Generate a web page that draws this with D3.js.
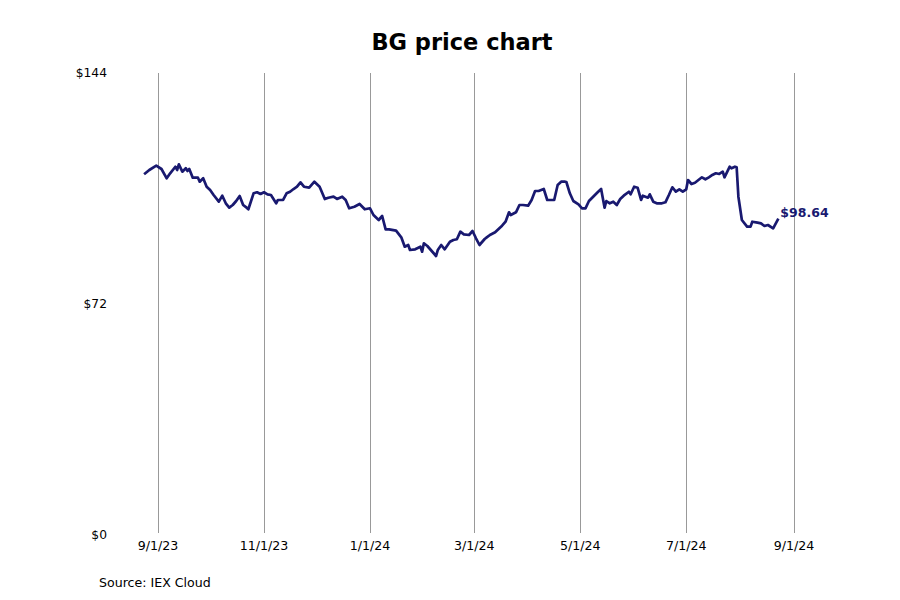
<!DOCTYPE html>
<html lang="en">
<head>
    <meta charset="utf-8">
    <title>BG price chart</title>
    <script src="https://cdn.jsdelivr.net/npm/d3@7"></script>
    <style>
        body { margin: 0; background: #fff; }
        text { font-family: "DejaVu Sans", sans-serif; }
        .grid { stroke: #999; stroke-width: 1; }
        .price-line { fill: none; stroke: #191970; stroke-width: 2.7; stroke-linejoin: round; }
    </style>
</head>
<body>
    <script>
        // Data
        var dates = [
            "2023-08-24", "2023-08-27", "2023-08-31", "2023-09-03", "2023-09-06", "2023-09-08",
            "2023-09-11", "2023-09-12", "2023-09-13", "2023-09-15", "2023-09-17", "2023-09-18",
            "2023-09-19", "2023-09-21", "2023-09-24", "2023-09-25", "2023-09-27", "2023-09-29",
            "2023-10-01", "2023-10-03", "2023-10-06", "2023-10-08", "2023-10-10", "2023-10-12",
            "2023-10-14", "2023-10-16", "2023-10-18", "2023-10-20", "2023-10-22", "2023-10-23",
            "2023-10-26", "2023-10-28", "2023-10-30", "2023-11-01", "2023-11-03", "2023-11-05",
            "2023-11-08", "2023-11-09", "2023-11-12", "2023-11-14", "2023-11-16", "2023-11-18",
            "2023-11-20", "2023-11-22", "2023-11-24", "2023-11-27", "2023-11-30", "2023-12-03",
            "2023-12-06", "2023-12-08", "2023-12-11", "2023-12-13", "2023-12-16", "2023-12-18",
            "2023-12-20", "2023-12-23", "2023-12-26", "2023-12-29", "2024-01-01", "2024-01-03",
            "2024-01-06", "2024-01-08", "2024-01-10", "2024-01-12", "2024-01-16", "2024-01-19",
            "2024-01-21", "2024-01-23", "2024-01-24", "2024-01-27", "2024-01-30", "2024-01-31",
            "2024-02-01", "2024-02-03", "2024-02-05", "2024-02-08", "2024-02-09", "2024-02-11",
            "2024-02-13", "2024-02-16", "2024-02-18", "2024-02-20", "2024-02-22", "2024-02-24",
            "2024-02-27", "2024-02-29", "2024-03-02", "2024-03-04", "2024-03-07", "2024-03-08",
            "2024-03-10", "2024-03-13", "2024-03-15", "2024-03-17", "2024-03-19", "2024-03-21",
            "2024-03-22", "2024-03-25", "2024-03-27", "2024-03-29", "2024-04-01", "2024-04-03",
            "2024-04-05", "2024-04-07", "2024-04-10", "2024-04-12", "2024-04-15", "2024-04-16",
            "2024-04-18", "2024-04-20", "2024-04-22", "2024-04-23", "2024-04-25", "2024-04-27",
            "2024-04-30", "2024-05-02", "2024-05-04", "2024-05-06", "2024-05-09", "2024-05-11",
            "2024-05-13", "2024-05-15", "2024-05-16", "2024-05-18", "2024-05-20", "2024-05-22",
            "2024-05-24", "2024-05-26", "2024-05-29", "2024-05-30", "2024-06-01", "2024-06-03",
            "2024-06-05", "2024-06-06", "2024-06-09", "2024-06-10", "2024-06-12", "2024-06-14",
            "2024-06-17", "2024-06-19", "2024-06-21", "2024-06-23", "2024-06-25", "2024-06-27",
            "2024-06-29", "2024-07-01", "2024-07-02", "2024-07-04", "2024-07-06", "2024-07-08",
            "2024-07-10", "2024-07-12", "2024-07-14", "2024-07-16", "2024-07-18", "2024-07-20",
            "2024-07-22", "2024-07-23", "2024-07-26", "2024-07-27", "2024-07-29", "2024-07-30",
            "2024-07-31", "2024-08-02", "2024-08-05", "2024-08-07", "2024-08-08", "2024-08-11",
            "2024-08-13", "2024-08-15", "2024-08-17", "2024-08-20", "2024-08-21", "2024-08-23"
        ];
        var prices = [
            112.43, 113.77, 115.11, 114.08, 111.18, 112.74,
            114.79, 113.77, 115.54, 113.24, 114.30, 113.46,
            114.08, 111.37, 111.37, 110.12, 111.18, 108.56,
            107.53, 105.97, 103.89, 105.76, 103.39, 102.02,
            102.86, 104.10, 105.66, 102.86, 102.02, 101.52,
            106.50, 106.82, 106.29, 106.82, 106.19, 105.97,
            103.39, 104.42, 104.42, 106.50, 107.00, 107.84,
            108.56, 109.93, 108.56, 108.25, 110.12, 108.56,
            104.73, 105.13, 105.45, 104.73, 105.45, 104.42,
            101.83, 102.33, 103.17, 101.52, 101.83, 99.74,
            98.18, 99.43, 95.28, 95.28, 94.85, 92.79,
            89.86, 90.39, 88.83, 89.05, 89.86, 88.30,
            90.92, 90.08, 88.83, 86.96, 88.83, 90.39,
            89.05, 91.42, 91.95, 92.17, 94.54, 93.72,
            93.51, 94.75, 92.48, 90.39, 92.26, 92.67,
            93.51, 94.35, 95.38, 96.40, 97.65, 100.58,
            99.74, 100.58, 102.86, 102.86, 102.64, 104.42,
            107.22, 107.22, 107.84, 104.42, 104.42, 104.42,
            109.09, 110.12, 110.12, 110.02, 106.50, 104.10,
            103.08, 101.83, 101.83, 104.10, 105.76, 106.82,
            107.84, 102.02, 104.10, 103.39, 103.89, 102.86,
            104.73, 105.76, 107.00, 106.19, 108.56, 108.25,
            104.42, 105.76, 105.13, 106.19, 103.89, 103.39,
            103.39, 103.70, 105.97, 108.38, 107.00, 107.75,
            107.00, 107.75, 110.65, 109.40, 109.81, 110.65,
            111.49, 110.87, 111.49, 112.21, 112.74, 112.52,
            113.24, 111.49, 114.79, 114.30, 114.79, 114.61,
            105.45, 98.18, 96.10, 96.10, 97.65, 97.34,
            97.15, 96.31, 96.62, 95.60, 96.62, 98.64
        ];
        var tickDates = ["2023-09-01", "2023-11-01", "2024-01-01", "2024-03-01",
                         "2024-05-01", "2024-07-01", "2024-09-01"];
        var yTicks = [0, 72, 144];

        var w = 900, h = 600;
        var parse = d3.timeParse("%Y-%m-%d");
        var data = dates.map(function (d, i) { return { date: parse(d), price: prices[i] }; });

        var svg = d3.select("body").append("svg")
            .attr("width", w)
            .attr("height", h);

        //Scales
        var x = d3.scaleTime()
            .domain([parse("2023-09-01"), parse("2024-09-01")])
            .range([158, 794]);
        var y = d3.scaleLinear()
            .domain([0, 144])
            .range([535, 73]);

        //Title
        svg.append("text")
            .attr("x", 462)
            .attr("y", 42)
            .attr("text-anchor", "middle")
            .attr("dominant-baseline", "central")
            .style("font-size", "22.5px")
            .style("font-weight", "bold")
            .text("BG price chart");

        //Vertical gridlines + date labels
        var tks = tickDates.map(parse);
        svg.selectAll("line.grid")
            .data(tks)
            .enter()
            .append("line")
            .attr("class", "grid")
            .attr("x1", function (d) { return Math.round(x(d)) + 0.5; })
            .attr("x2", function (d) { return Math.round(x(d)) + 0.5; })
            .attr("y1", y(144))
            .attr("y2", y(0) - 2);

        var fmt = d3.timeFormat("%-m/%-d/%y");
        svg.selectAll("text.xlab")
            .data(tks)
            .enter()
            .append("text")
            .attr("class", "xlab")
            .attr("x", function (d) { return x(d); })
            .attr("y", 545)
            .attr("text-anchor", "middle")
            .attr("dominant-baseline", "central")
            .style("font-size", "12.6px")
            .text(fmt);

        //Y labels
        svg.selectAll("text.ylab")
            .data(yTicks)
            .enter()
            .append("text")
            .attr("class", "ylab")
            .attr("x", 107)
            .attr("y", function (d) { return y(d); })
            .attr("text-anchor", "end")
            .attr("dominant-baseline", "central")
            .style("font-size", "12.3px")
            .text(function (d) { return "$" + d; });

        //Price line
        var line = d3.line()
            .x(function (d) { return x(d.date); })
            .y(function (d) { return y(d.price); });

        svg.append("path")
            .datum(data)
            .attr("class", "price-line")
            .attr("d", line);

        //Last value label
        var last = data[data.length - 1];
        svg.append("text")
            .attr("x", x(last.date) + 2)
            .attr("y", y(last.price) - 6)
            .attr("dominant-baseline", "central")
            .style("font-size", "12.5px")
            .style("font-weight", "bold")
            .style("fill", "#191970")
            .text("$" + last.price.toFixed(2));

        //Source
        svg.append("text")
            .attr("x", 99)
            .attr("y", 582)
            .attr("dominant-baseline", "central")
            .style("font-size", "12.6px")
            .text("Source: IEX Cloud");
    </script>
</body>
</html>
